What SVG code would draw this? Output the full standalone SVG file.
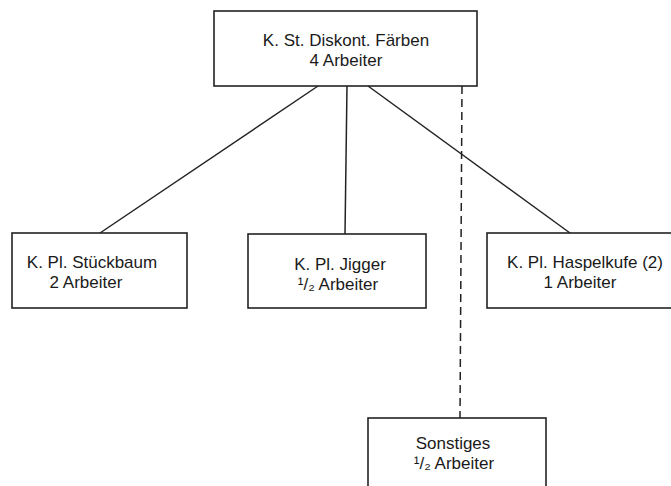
<svg xmlns="http://www.w3.org/2000/svg" width="671" height="486" viewBox="0 0 671 486">
<style>
.box{fill:#fff;stroke:#222;stroke-width:1.6}
.t{font-family:"Liberation Sans","DejaVu Sans",Arial,sans-serif;font-size:17px;fill:#1a1a1a;text-anchor:middle}
.c{fill:none;stroke:#222;stroke-width:1.5}
.d{stroke-dasharray:8 5}
</style>
<rect width="671" height="486" fill="#fff"/>
<g id="connectors">
<line class="c" x1="318" y1="86" x2="100" y2="233"/>
<line class="c" x1="347" y1="86" x2="345" y2="234"/>
<line class="c" x1="368" y1="86" x2="570" y2="233"/>
<line class="c d" x1="462" y1="86" x2="460" y2="418"/>
</g>
<g id="node-top">
<rect class="box" x="214" y="11" width="263" height="75"/>
<text class="t" x="346" y="46">K. St. Diskont. Färben</text>
<text class="t" x="346" y="66">4 Arbeiter</text>
</g>
<g id="node-stueckbaum">
<rect class="box" x="12" y="233" width="175" height="75"/>
<text class="t" x="92" y="268">K. Pl. Stückbaum</text>
<text class="t" x="86" y="288">2 Arbeiter</text>
</g>
<g id="node-jigger">
<rect class="box" x="248" y="234" width="178" height="74"/>
<text class="t" x="340" y="270">K. Pl. Jigger</text>
<text class="t" x="338" y="290">¹/₂ Arbeiter</text>
</g>
<g id="node-haspelkufe">
<rect class="box" x="487" y="233" width="200" height="75"/>
<text class="t" x="585" y="268">K. Pl. Haspelkufe (2)</text>
<text class="t" x="580" y="288">1 Arbeiter</text>
</g>
<g id="node-sonstiges">
<rect class="box" x="368" y="418" width="178" height="80"/>
<text class="t" x="453" y="449">Sonstiges</text>
<text class="t" x="454" y="469">¹/₂ Arbeiter</text>
</g>
</svg>
